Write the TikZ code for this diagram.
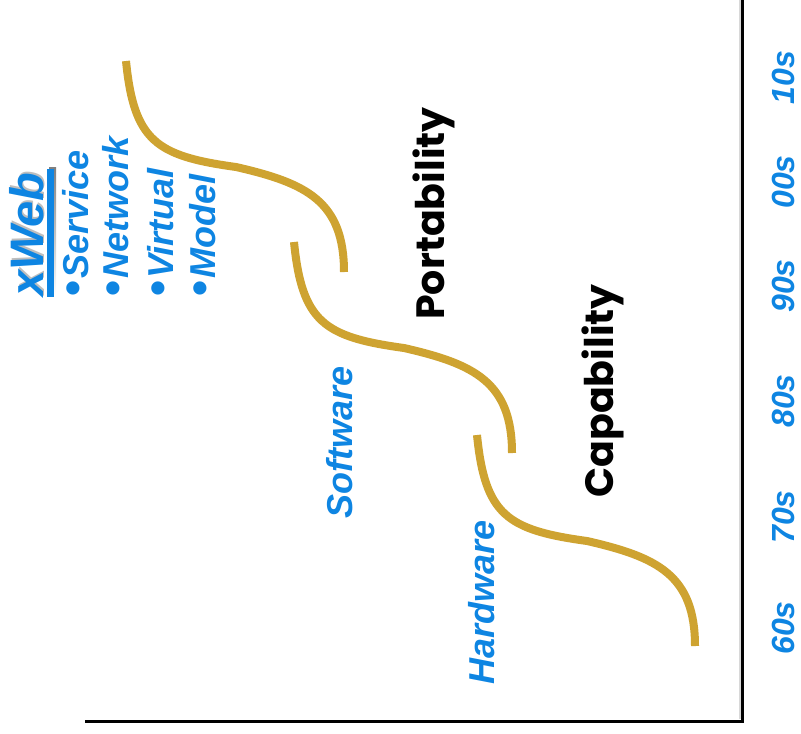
\documentclass[tikz,border=0pt]{standalone}
\usepackage{fontspec}
\setmainfont{Liberation Sans}
\newfontfamily\popfont{Poppins}
\definecolor{lblue}{RGB}{14,133,226}
\definecolor{gold}{RGB}{206,163,49}
\definecolor{shade}{RGB}{190,190,190}
\tikzset{
  scurve/.style={draw=gold, line width=8pt},
  axisline/.style={draw=black, line width=3pt},
  axisshade/.style={draw=shade!60, line width=2pt},
  year/.style={rotate=90, inner sep=0pt, text=lblue, font=\fontsize{32}{32}\selectfont\bfseries\itshape},
  bigblack/.style={rotate=90, inner sep=0pt, text=black, font=\popfont\fontsize{39.5}{39.5}\selectfont\bfseries},
  era/.style={rotate=90, inner sep=0pt, text=lblue, font=\fontsize{36}{36}\selectfont\bfseries\itshape},
  item/.style={rotate=90, inner sep=0pt, anchor=base west, text=lblue, font=\fontsize{36}{36}\selectfont\bfseries\itshape},
  webtitle/.style={rotate=90, inner sep=0pt, anchor=base west, font=\fontsize{47}{47}\selectfont\bfseries\itshape},
}
\newcommand{\scurvepath}{(0,0) .. controls (8,80) and (30,95) .. (110,106) .. controls (180,122) and (218,140) .. (218,211)}
\newcommand{\bul}{{\fontsize{46}{46}\selectfont\upshape •}\kern2pt}
\begin{document}
\begin{tikzpicture}[x=1pt,y=-1pt]
\useasboundingbox (0,0) rectangle (801,734);
% axes
\coordinate (axtop) at (742.5,0);
\coordinate (axcorner) at (742.5,721.5);
\coordinate (axleft) at (85,721.5);
\coordinate (shtop) at (739.5,0);
\coordinate (shcorner) at (739.5,718.5);
\draw[axisshade] (shtop) -- (shcorner);
\draw[axisline] (axtop) -- (axcorner) -- (axleft);
% S-curves
\begin{scope}[shift={(126,61)}]
  \draw[scurve] \scurvepath;
\end{scope}
\begin{scope}[shift={(294,242)}]
  \draw[scurve] \scurvepath;
\end{scope}
\begin{scope}[shift={(477,435)}]
  \draw[scurve] \scurvepath;
\end{scope}
% year labels
\node[year] (y10) at (783.5,77.5) {10s};
\node[year] (y00) at (783.5,182) {00s};
\node[year] (y90) at (783.5,286) {90s};
\node[year] (y80) at (783.5,401) {80s};
\node[year] (y70) at (783.5,517) {70s};
\node[year] (y60) at (783.5,628) {60s};
% main labels
\node[bigblack] (port) at (434,213.5) {Portability};
\node[bigblack] (cap) at (602.5,391) {Capability};
\node[era] (soft) at (340,442.5) {Software};
\node[era] (hard) at (482,602) {Hardware};
% xWeb block
\node[webtitle, text=shade] (xwebsh) at (45,295) {xWeb};
\node[webtitle, text=lblue] (xweb) at (43,297) {xWeb};
\fill[shade] (49,167) rectangle (56,295);
\fill[lblue] (47,169) rectangle (54,297);
\node[item] (svc) at (88,297) {\bul Service};
\node[item] (net) at (128,297) {\bul Network};
\node[item] (vir) at (173,297) {\bul Virtual};
\node[item] (mod) at (215,297) {\bul Model};
\end{tikzpicture}
\end{document}
